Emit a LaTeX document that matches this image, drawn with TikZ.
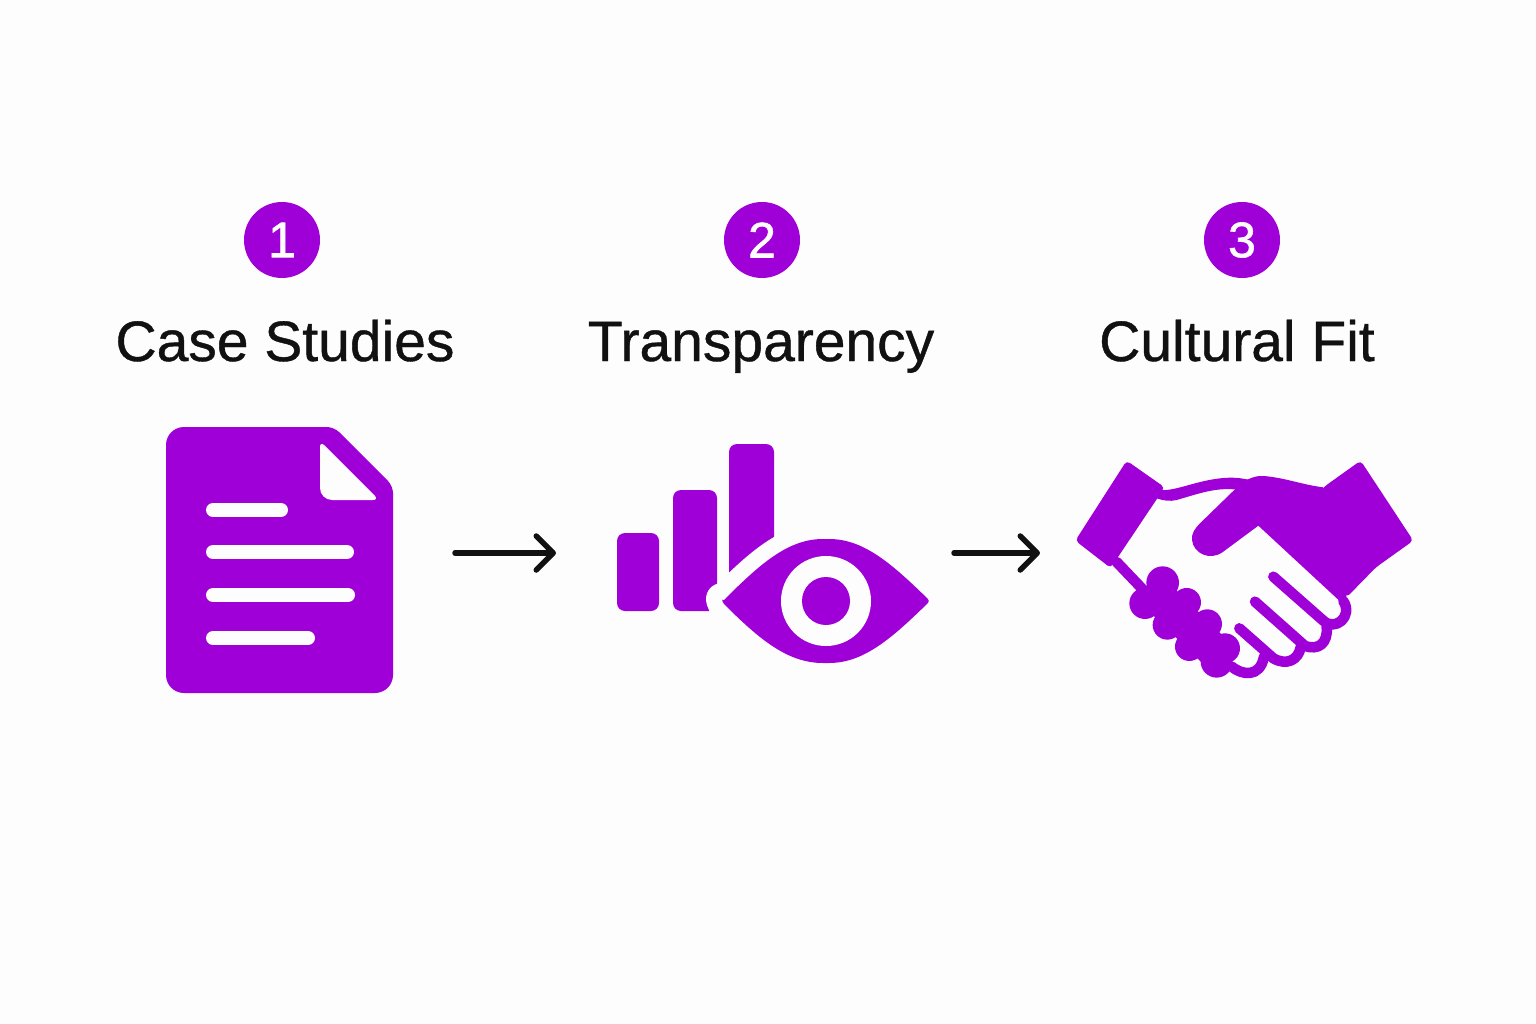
\documentclass[tikz,border=0pt]{standalone}
\usepackage{fontspec}
\setmainfont{Liberation Sans}
\newfontfamily\heavyfont[FakeBold=0.7]{Liberation Sans}
\newfontfamily\digitfont[FakeBold=1.2]{Liberation Sans}
\usetikzlibrary{arrows.meta}
\definecolor{brand}{HTML}{A000D8}
\definecolor{paper}{HTML}{FDFDFE}
\definecolor{ink}{HTML}{111111}
\tikzset{
  badge/.style={circle,fill=brand,text=paper,minimum size=76pt,inner sep=0pt,font=\digitfont\fontsize{50}{50}\selectfont},
  title/.style={text=ink,inner sep=0pt,anchor=base,font=\heavyfont\fontsize{57}{57}\selectfont},
  flow/.style={draw=ink,line width=5.5pt,line cap=round,-{Straight Barb[length=17pt,width=34pt,round]}},
  textline/.style={draw=paper,line width=14pt,line cap=round},
  bar/.style={fill=brand,rounded corners=8pt},
  band/.style={draw=brand,line width=10.5pt,line cap=round,line join=round}
}

\begin{document}
\begin{tikzpicture}[x=1pt,y=-1pt]
  \fill[paper] (0,0) rectangle (1536,1024);

  \node[badge] (badgeA) at (282,240) {1};
  \node[badge] (badgeB) at (762,240) {2};
  \node[badge] (badgeC) at (1242,240) {3};
  \node[title] (caseA) at (285,361) {Case Studies};
  \node[title] (caseB) at (761,361) {Transparency};
  \node[title] (caseC) at (1237,361) {Cultural Fit};

  \coordinate (startA) at (455,553);
  \coordinate (endA) at (556,553);
  \coordinate (startB) at (954,553);
  \coordinate (endB) at (1040,553);
  \draw[flow] (startA) -- (endA);
  \draw[flow] (startB) -- (endB);

  \fill[brand] (250,427) [rounded corners=7pt] -- (334,427) -- (393,486) [rounded corners=18pt] -- (393,693) -- (166,693) -- (166,427) -- cycle;
  \fill[paper] (320,470) [rounded corners=6pt] -- (320,441) -- (379,500) [rounded corners=12pt] -- (320,500) -- cycle;
  \draw[textline] (213,510) -- (281,510);
  \draw[textline] (213,552) -- (347,552);
  \draw[textline] (213,595) -- (348,595);
  \draw[textline] (213,638) -- (308,638);

  \fill[bar] (617,533) rectangle (659,611);
  \fill[bar] (673,490) rectangle (717,611);
  \fill[bar] (729,444) rectangle (774,620);
  \fill[brand,preaction={draw=paper,line width=32pt,line join=round},rounded corners=3pt] (722,602) .. controls (760,564) and (788,539) .. (826,539) .. controls (864,539) and (892,564) .. (930,601) .. controls (892,638) and (864,663) .. (826,663) .. controls (788,663) and (760,640) .. (722,602) -- cycle;
  \fill[paper] (826,601) circle[radius=45];
  \fill[brand] (826,601) circle[radius=24];

  \begin{scope}[shift={(1060,440)},x=0.3333pt,y=-0.3333pt]
    \fill[brand,rounded corners=4pt] (200,62) -- (314,142) -- (152,384) -- (46,302) -- cycle;
    \fill[brand] (300,150) .. controls (350,155) and (420,115) .. (510,113) .. controls (540,113) and (560,118) .. (570,120) -- (540,150) .. controls (470,140) and (420,160) .. (350,180) .. controls (330,185) and (310,182) .. (290,175) -- cycle;
    \draw[band] (170,366) -- (250,450);
    \fill[brand,rounded corners=4pt] (790,142) -- (902,62) -- (1060,302) -- (948,382) -- (860,472) -- (700,300) -- cycle;
    \fill[brand] (595,257) -- (838,482) -- (860,472) -- (800,300) -- (790,142) .. controls (730,135) and (670,112) .. (610,108) .. controls (580,106) and (550,122) .. (525,148) -- (420,250) .. controls (405,265) and (394,280) .. (396,300) .. controls (400,340) and (450,365) .. (490,335) -- cycle;
    \fill[brand] (308,428) circle[radius=49];
    \fill[brand] (255,490) circle[radius=47];
    \fill[brand] (380,487) circle[radius=43];
    \fill[brand] (322,555) circle[radius=44];
    \fill[brand] (442,552) circle[radius=44];
    \fill[brand] (388,620) circle[radius=43];
    \fill[brand] (495,625) circle[radius=45];
    \fill[brand] (470,665) circle[radius=48];
    \draw[brand,line width=34pt] (300,475) -- (470,640);
    \draw[band] (640,410) -- (790,542) .. controls (825,575) and (880,530) .. (850,483);
    \draw[band] (585,485) -- (735,618) .. controls (775,632) and (805,610) .. (800,560);
    \draw[band] (538,565) -- (640,655) .. controls (680,678) and (715,660) .. (722,622);
    \draw[band] (515,680) .. controls (545,705) and (600,715) .. (612,650);
  \end{scope}
\end{tikzpicture}
\end{document}
